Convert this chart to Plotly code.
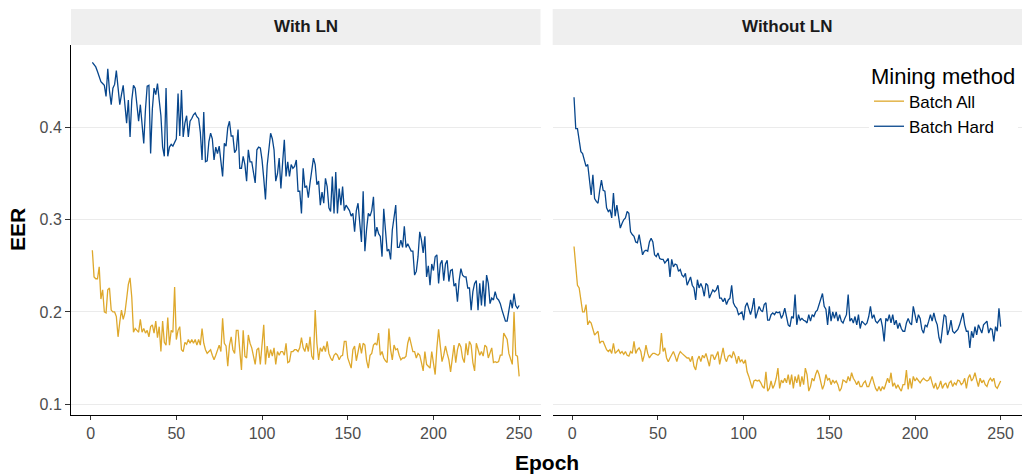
import plotly.graph_objects as go

# ---------------- data ----------------
epochs = list(range(1, 251))
panels = ["With LN", "Without LN"]
methods = ["Batch All", "Batch Hard"]
x_ticks = [0, 50, 100, 150, 200, 250]
y_ticks = [0.1, 0.2, 0.3, 0.4]
y_tick_labels = ["0.1", "0.2", "0.3", "0.4"]

with_ln_batch_all = [
    0.267, 0.238, 0.236, 0.236, 0.249, 0.214, 0.224, 0.200, 0.199, 0.224,
    0.226, 0.202, 0.200, 0.200, 0.195, 0.173, 0.189, 0.202, 0.192, 0.199,
    0.214, 0.230, 0.237, 0.216, 0.178, 0.182, 0.180, 0.178, 0.192, 0.178,
    0.182, 0.177, 0.180, 0.173, 0.184, 0.186, 0.177, 0.190, 0.172, 0.184,
    0.157, 0.190, 0.167, 0.164, 0.194, 0.164, 0.180, 0.178, 0.227, 0.170,
    0.180, 0.184, 0.159, 0.157, 0.167, 0.165, 0.170, 0.166, 0.170, 0.166,
    0.170, 0.164, 0.170, 0.164, 0.182, 0.166, 0.159, 0.155, 0.157, 0.159,
    0.153, 0.148, 0.153, 0.159, 0.164, 0.157, 0.193, 0.166, 0.163, 0.141,
    0.164, 0.173, 0.159, 0.155, 0.180, 0.180, 0.157, 0.137, 0.180, 0.152,
    0.150, 0.175, 0.166, 0.161, 0.152, 0.143, 0.159, 0.161, 0.143, 0.166,
    0.186, 0.143, 0.163, 0.150, 0.159, 0.152, 0.161, 0.143, 0.157, 0.153,
    0.157, 0.157, 0.153, 0.166, 0.145, 0.146, 0.157, 0.157, 0.159, 0.159,
    0.157, 0.161, 0.172, 0.161, 0.157, 0.166, 0.157, 0.173, 0.152, 0.148,
    0.202, 0.166, 0.148, 0.161, 0.157, 0.163, 0.157, 0.168, 0.155, 0.150,
    0.147, 0.153, 0.155, 0.153, 0.148, 0.152, 0.153, 0.168, 0.168, 0.150,
    0.145, 0.139, 0.159, 0.163, 0.147, 0.157, 0.166, 0.155, 0.166, 0.164,
    0.147, 0.139, 0.153, 0.155, 0.164, 0.166, 0.164, 0.177, 0.153, 0.157,
    0.150, 0.147, 0.145, 0.182, 0.159, 0.148, 0.164, 0.159, 0.160, 0.153,
    0.148, 0.150, 0.150, 0.152, 0.166, 0.173, 0.166, 0.157, 0.157, 0.150,
    0.155, 0.153, 0.145, 0.136, 0.157, 0.143, 0.141, 0.139, 0.157, 0.143,
    0.132, 0.161, 0.181, 0.163, 0.146, 0.153, 0.163, 0.155, 0.148, 0.135,
    0.153, 0.164, 0.145, 0.159, 0.166, 0.162, 0.150, 0.145, 0.166, 0.153,
    0.168, 0.164, 0.145, 0.136, 0.166, 0.159, 0.153, 0.157, 0.152, 0.164,
    0.162, 0.150, 0.155, 0.161, 0.145, 0.146, 0.145, 0.146, 0.153, 0.153,
    0.177, 0.173, 0.170, 0.155, 0.148, 0.143, 0.200, 0.153, 0.152, 0.130,
]

with_ln_batch_hard = [
    0.471, 0.469, 0.466, 0.461, 0.455, 0.450, 0.448, 0.446, 0.434, 0.464,
    0.440, 0.425, 0.443, 0.447, 0.462, 0.445, 0.425, 0.436, 0.446, 0.425,
    0.405, 0.430, 0.390, 0.430, 0.446, 0.443, 0.425, 0.407, 0.425, 0.400,
    0.383, 0.420, 0.445, 0.446, 0.372, 0.420, 0.443, 0.436, 0.448, 0.430,
    0.413, 0.379, 0.369, 0.443, 0.369, 0.379, 0.382, 0.380, 0.385, 0.388,
    0.437, 0.391, 0.441, 0.390, 0.405, 0.413, 0.390, 0.407, 0.410, 0.414,
    0.416, 0.412, 0.410, 0.395, 0.365, 0.417, 0.363, 0.364, 0.385, 0.394,
    0.388, 0.365, 0.379, 0.372, 0.380, 0.365, 0.347, 0.383, 0.380, 0.400,
    0.407, 0.391, 0.391, 0.373, 0.376, 0.398, 0.356, 0.356, 0.369, 0.360,
    0.342, 0.376, 0.363, 0.363, 0.350, 0.340, 0.376, 0.379, 0.378, 0.365,
    0.345, 0.322, 0.359, 0.380, 0.394, 0.388, 0.376, 0.342, 0.350, 0.367,
    0.334, 0.362, 0.387, 0.347, 0.363, 0.347, 0.360, 0.356, 0.358, 0.365,
    0.331, 0.331, 0.307, 0.356, 0.335, 0.337, 0.324, 0.340, 0.356, 0.367,
    0.360, 0.338, 0.342, 0.316, 0.330, 0.318, 0.345, 0.336, 0.313, 0.309,
    0.347, 0.307, 0.352, 0.307, 0.334, 0.316, 0.336, 0.310, 0.316, 0.313,
    0.310, 0.304, 0.307, 0.287, 0.310, 0.318, 0.300, 0.276, 0.331, 0.266,
    0.290, 0.307, 0.304, 0.310, 0.325, 0.282, 0.292, 0.285, 0.282, 0.260,
    0.312, 0.285, 0.266, 0.268, 0.257, 0.289, 0.304, 0.316, 0.270, 0.270,
    0.278, 0.270, 0.293, 0.270, 0.274, 0.270, 0.266, 0.266, 0.240, 0.244,
    0.260, 0.287, 0.278, 0.264, 0.282, 0.238, 0.250, 0.229, 0.252, 0.245,
    0.260, 0.262, 0.231, 0.252, 0.256, 0.234, 0.252, 0.256, 0.233, 0.245,
    0.246, 0.228, 0.231, 0.211, 0.234, 0.247, 0.240, 0.238, 0.238, 0.226,
    0.226, 0.202, 0.222, 0.231, 0.234, 0.202, 0.231, 0.207, 0.234, 0.206,
    0.240, 0.231, 0.209, 0.215, 0.213, 0.222, 0.215, 0.213, 0.209, 0.202,
    0.195, 0.190, 0.190, 0.202, 0.213, 0.204, 0.220, 0.207, 0.204, 0.207,
]

without_ln_batch_all = [
    0.271, 0.249, 0.229, 0.226, 0.215, 0.200, 0.200, 0.208, 0.186, 0.190,
    0.188, 0.182, 0.175, 0.177, 0.179, 0.166, 0.168, 0.168, 0.164, 0.159,
    0.157, 0.159, 0.155, 0.166, 0.155, 0.157, 0.159, 0.155, 0.157, 0.154,
    0.157, 0.153, 0.152, 0.157, 0.155, 0.168, 0.155, 0.159, 0.161, 0.157,
    0.146, 0.153, 0.164, 0.155, 0.150, 0.153, 0.155, 0.155, 0.154, 0.153,
    0.155, 0.177, 0.157, 0.161, 0.150, 0.146, 0.150, 0.153, 0.157, 0.152,
    0.146, 0.153, 0.157, 0.155, 0.153, 0.152, 0.150, 0.150, 0.146, 0.152,
    0.141, 0.137, 0.148, 0.152, 0.146, 0.153, 0.150, 0.155, 0.148, 0.141,
    0.153, 0.153, 0.148, 0.153, 0.157, 0.143, 0.153, 0.161, 0.150, 0.146,
    0.152, 0.153, 0.150, 0.157, 0.152, 0.144, 0.152, 0.146, 0.148, 0.144,
    0.148, 0.135, 0.130, 0.123, 0.117, 0.125, 0.126, 0.125, 0.126, 0.123,
    0.119, 0.117, 0.135, 0.114, 0.117, 0.125, 0.117, 0.121, 0.128, 0.139,
    0.117, 0.126, 0.123, 0.128, 0.123, 0.132, 0.121, 0.132, 0.117, 0.130,
    0.123, 0.132, 0.119, 0.130, 0.121, 0.139, 0.132, 0.114, 0.119, 0.128,
    0.125, 0.132, 0.137, 0.132, 0.123, 0.116, 0.121, 0.132, 0.126, 0.128,
    0.121, 0.126, 0.123, 0.125, 0.121, 0.114, 0.117, 0.126, 0.125, 0.123,
    0.130, 0.125, 0.134, 0.128, 0.125, 0.121, 0.125, 0.119, 0.119, 0.123,
    0.125, 0.119, 0.119, 0.125, 0.130, 0.123, 0.117, 0.114, 0.119, 0.114,
    0.119, 0.116, 0.121, 0.128, 0.123, 0.134, 0.119, 0.123, 0.117, 0.121,
    0.117, 0.114, 0.121, 0.121, 0.137, 0.116, 0.128, 0.117, 0.130, 0.125,
    0.128, 0.126, 0.123, 0.126, 0.128, 0.126, 0.125, 0.126, 0.130, 0.123,
    0.117, 0.123, 0.116, 0.119, 0.125, 0.117, 0.121, 0.123, 0.117, 0.123,
    0.125, 0.119, 0.123, 0.121, 0.126, 0.125, 0.121, 0.123, 0.128, 0.117,
    0.128, 0.132, 0.125, 0.128, 0.134, 0.126, 0.119, 0.128, 0.123, 0.126,
    0.121, 0.119, 0.125, 0.128, 0.125, 0.128, 0.119, 0.117, 0.121, 0.125,
]

without_ln_batch_hard = [
    0.433, 0.399, 0.399, 0.387, 0.374, 0.372, 0.366, 0.358, 0.360, 0.342,
    0.327, 0.349, 0.323, 0.320, 0.318, 0.332, 0.343, 0.332, 0.331, 0.313,
    0.309, 0.311, 0.302, 0.329, 0.304, 0.316, 0.300, 0.291, 0.296, 0.300,
    0.302, 0.309, 0.307, 0.287, 0.284, 0.282, 0.276, 0.275, 0.284, 0.275,
    0.262, 0.266, 0.267, 0.266, 0.276, 0.280, 0.276, 0.262, 0.260, 0.264,
    0.258, 0.257, 0.257, 0.253, 0.255, 0.258, 0.238, 0.257, 0.249, 0.252,
    0.251, 0.244, 0.246, 0.240, 0.238, 0.242, 0.229, 0.233, 0.238, 0.229,
    0.226, 0.213, 0.235, 0.226, 0.231, 0.226, 0.217, 0.231, 0.229, 0.215,
    0.220, 0.224, 0.222, 0.224, 0.229, 0.215, 0.215, 0.211, 0.215, 0.208,
    0.213, 0.215, 0.229, 0.210, 0.206, 0.204, 0.197, 0.199, 0.200, 0.191,
    0.206, 0.210, 0.204, 0.197, 0.204, 0.215, 0.193, 0.200, 0.206, 0.202,
    0.200, 0.208, 0.210, 0.191, 0.191, 0.197, 0.199, 0.197, 0.200, 0.199,
    0.200, 0.193, 0.197, 0.204, 0.193, 0.186, 0.184, 0.195, 0.193, 0.219,
    0.186, 0.197, 0.191, 0.193, 0.191, 0.190, 0.188, 0.197, 0.190, 0.197,
    0.195, 0.200, 0.202, 0.208, 0.213, 0.220, 0.206, 0.203, 0.186, 0.206,
    0.190, 0.200, 0.193, 0.200, 0.190, 0.197, 0.190, 0.188, 0.193, 0.197,
    0.219, 0.190, 0.193, 0.188, 0.195, 0.186, 0.197, 0.182, 0.190, 0.188,
    0.186, 0.188, 0.195, 0.206, 0.193, 0.197, 0.190, 0.188, 0.190, 0.193,
    0.184, 0.168, 0.193, 0.190, 0.197, 0.188, 0.197, 0.186, 0.191, 0.182,
    0.188, 0.182, 0.179, 0.179, 0.188, 0.193, 0.188, 0.186, 0.206, 0.195,
    0.188, 0.197, 0.193, 0.181, 0.177, 0.186, 0.184, 0.190, 0.197, 0.190,
    0.199, 0.191, 0.186, 0.172, 0.166, 0.182, 0.197, 0.195, 0.175, 0.181,
    0.191, 0.179, 0.177, 0.179, 0.181, 0.186, 0.193, 0.199, 0.186, 0.179,
    0.179, 0.161, 0.179, 0.172, 0.184, 0.175, 0.186, 0.181, 0.177, 0.186,
    0.188, 0.190, 0.177, 0.182, 0.181, 0.168, 0.184, 0.179, 0.204, 0.184,
]

# ---------------- styling ----------------
W, H = 1023, 474
FONT = "Liberation Sans, Arial, Helvetica, sans-serif"
colors = {"Batch All": "#DEA82C", "Batch Hard": "#07468C"}

def fx(p):
    return p / W

def fy(p):
    return 1 - p / H

left_dom = [fx(71), fx(540.5)]
right_dom = [fx(552.7), fx(1022)]
y_dom = [fy(415), fy(45)]
x_range = [-11.45, 262.45]
y_range = [0.0881, 0.4898]

series = {
    ("With LN", "Batch All"): with_ln_batch_all,
    ("With LN", "Batch Hard"): with_ln_batch_hard,
    ("Without LN", "Batch All"): without_ln_batch_all,
    ("Without LN", "Batch Hard"): without_ln_batch_hard,
}

fig = go.Figure()
for pi, panel in enumerate(panels):
    for m in methods:
        fig.add_trace(go.Scatter(
            x=epochs, y=series[(panel, m)], mode="lines", name=m,
            line=dict(color=colors[m], width=1.3),
            xaxis="x" if pi == 0 else "x2", yaxis="y" if pi == 0 else "y2",
            legendgroup=m, showlegend=(pi == 0), hoverinfo="skip",
        ))

tick_font = dict(family=FONT, size=16, color="#4D4D4D")
xcommon = dict(range=x_range, tickvals=x_ticks, showline=True, linecolor="black",
               linewidth=1, ticks="outside", ticklen=4, tickcolor="#333333",
               tickwidth=1, tickfont=tick_font, showgrid=False, zeroline=False,
               fixedrange=True)
fig.update_layout(
    width=W, height=H, margin=dict(l=0, r=0, t=0, b=0),
    paper_bgcolor="white", plot_bgcolor="white",
    font=dict(family=FONT),
    xaxis=dict(domain=left_dom, anchor="y", **xcommon),
    xaxis2=dict(domain=right_dom, anchor="y2", **xcommon),
    yaxis=dict(domain=y_dom, anchor="x", range=y_range, tickvals=y_ticks,
               ticktext=y_tick_labels, showline=True, linecolor="black",
               linewidth=1, ticks="outside", ticklen=5, tickcolor="#333333",
               tickfont=tick_font, showgrid=True, gridcolor="#EBEBEB",
               gridwidth=1, zeroline=False),
    yaxis2=dict(domain=y_dom, anchor="x2", matches="y", range=y_range,
                tickvals=y_ticks, showticklabels=False, ticks="",
                showline=False, showgrid=True, gridcolor="#EBEBEB",
                gridwidth=1, zeroline=False),
    legend=dict(x=fx(869), y=fy(55), xanchor="left", yanchor="top",
                bgcolor="white", borderwidth=0,
                font=dict(family=FONT, size=17, color="black"),
                title=dict(text="Mining method",
                           font=dict(family=FONT, size=22, color="black")),
                itemwidth=30, tracegroupgap=0),
    showlegend=True,
)

# facet strips
for dom, label in [(left_dom, panels[0]), (right_dom, panels[1])]:
    fig.add_shape(type="rect", xref="paper", yref="paper",
                  x0=dom[0], x1=dom[1], y0=fy(45), y1=fy(9),
                  fillcolor="#EFEFEF", line=dict(width=0), layer="below")
    fig.add_annotation(text=f"<b>{label}</b>", xref="paper", yref="paper",
                       x=(dom[0] + dom[1]) / 2, y=fy(27), showarrow=False,
                       xanchor="center", yanchor="middle",
                       font=dict(family=FONT, size=17, color="#1A1A1A"))

# axis titles
fig.add_annotation(text="<b>EER</b>", xref="paper", yref="paper",
                   x=fx(17), y=fy(230), textangle=-90, showarrow=False,
                   xanchor="center", yanchor="middle",
                   font=dict(family=FONT, size=21, color="black"))
fig.add_annotation(text="<b>Epoch</b>", xref="paper", yref="paper",
                   x=fx(546.5), y=fy(462), showarrow=False,
                   xanchor="center", yanchor="middle",
                   font=dict(family=FONT, size=21, color="black"))

fig.write_html("out.html")
